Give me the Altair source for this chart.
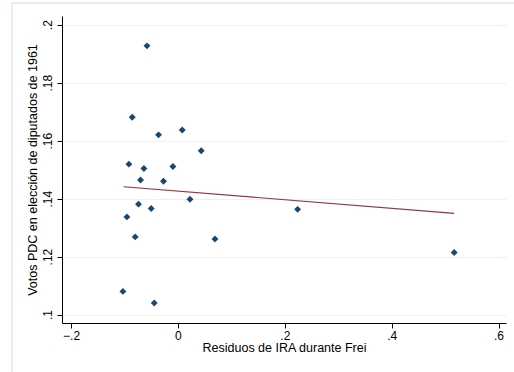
import altair as alt
import pandas as pd

# Scatter data
resid_ira = [-0.058, -0.0856, -0.0363, 0.008, 0.0436, -0.0918, -0.0637, -0.0094,
             -0.070, -0.027, 0.0225, -0.0738, -0.050, -0.0955, 0.224, -0.080,
             0.0693, 0.517, -0.103, -0.0444]
votos_pdc = [0.1927, 0.1681, 0.1620, 0.1637, 0.1565, 0.1519, 0.1504, 0.1511,
             0.1464, 0.1460, 0.1398, 0.1381, 0.1366, 0.1337, 0.1363, 0.1268,
             0.1261, 0.1214, 0.1080, 0.1040]

# Fitted line endpoints
fit_x = [-0.1018, 0.517]
fit_y = [0.1441, 0.1349]

x_ticks = [-0.2, 0, 0.2, 0.4, 0.6]
y_ticks = [0.1, 0.12, 0.14, 0.16, 0.18, 0.2]

pts = pd.DataFrame({"x": resid_ira, "y": votos_pdc})
fit = pd.DataFrame({"x": fit_x, "y": fit_y})

FONT = "Liberation Sans"
LBL = "datum.value == 0 ? '0' : replace(format(datum.value, '~g'), '0.', '.')"

xscale = alt.Scale(domain=[-0.217, 0.614], nice=False, zero=False)
yscale = alt.Scale(domain=[0.0971, 0.2030], nice=False, zero=False)

xaxis = alt.Axis(
    values=x_ticks, title="Residuos de IRA durante Frei", grid=False,
    labelExpr=LBL,
    domainColor="#000000", tickColor="#000000", tickSize=5, labelPadding=2,
    labelFont=FONT, labelFontSize=12, labelColor="#000000",
    titleFont=FONT, titleFontSize=12.5, titleFontWeight="normal", titleColor="#000000",
    titlePadding=0, labelFlush=False, labelOverlap=False,
)
yaxis = alt.Axis(
    values=y_ticks, title="Votos PDC en elección de diputados de 1961",
    grid=True, gridColor="#eaf2f3", gridWidth=1.2,
    labelExpr=LBL,
    labelAngle=270, labelAlign="center", labelBaseline="bottom",
    domainColor="#000000", tickColor="#000000", tickSize=5, labelPadding=3,
    labelFont=FONT, labelFontSize=12, labelColor="#000000",
    titleFont=FONT, titleFontSize=12.5, titleFontWeight="normal", titleColor="#000000",
    titlePadding=2, labelFlush=False, labelOverlap=False,
)

border = alt.Chart(pd.DataFrame({"a": [0]})).mark_rect(
    fill="transparent", stroke="#dde9ec", strokeWidth=1.5
).encode(
    x=alt.value(-50), x2=alt.value(460), y=alt.value(-13), y2=alt.value(400)
)

points = alt.Chart(pts).mark_point(
    shape="diamond", filled=True, size=48, color="#1a476f", opacity=1
).encode(
    x=alt.X("x:Q", scale=xscale, axis=xaxis),
    y=alt.Y("y:Q", scale=yscale, axis=yaxis),
)

line = alt.Chart(fit).mark_line(color="#90353b", strokeWidth=1.2).encode(
    x=alt.X("x:Q", scale=xscale),
    y=alt.Y("y:Q", scale=yscale),
)

chart = alt.layer(border, points, line).properties(
    width=444, height=307,
    autosize=alt.AutoSizeParams(type="none"),
    padding={"left": 62, "top": 16, "right": 8, "bottom": 49},
    background="#ffffff",
).configure_view(stroke=None)

chart.save("out.html", embed_options={"renderer": "svg", "actions": False})
